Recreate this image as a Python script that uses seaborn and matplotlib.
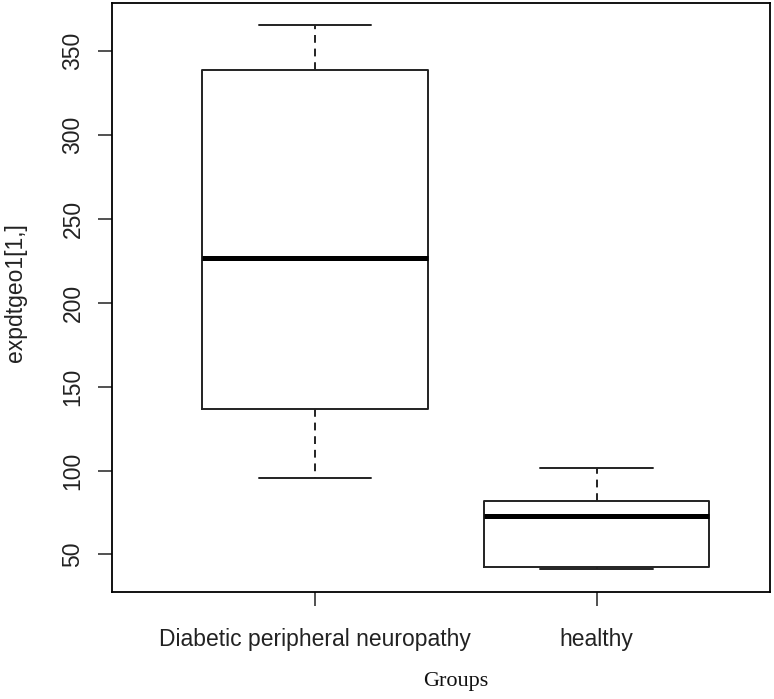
import matplotlib
matplotlib.use("Agg")
import numpy as np
import pandas as pd
import seaborn as sns
from matplotlib import pyplot as plt

# five-number summaries
groups = ["Diabetic peripheral neuropathy", "healthy"]
dpn_values = [95.3, 136.4, 226.9, 338.7, 365.5]
healthy_values = [41.1, 42.6, 73.0, 81.8, 101.6]
y_ticks = [50, 100, 150, 200, 250, 300, 350]

df = pd.DataFrame({
    "group": [groups[0]] * len(dpn_values) + [groups[1]] * len(healthy_values),
    "value": dpn_values + healthy_values,
})

sns.set_theme(style="ticks")
plt.rcParams["font.family"] = ["Liberation Sans", "DejaVu Sans"]

fig = plt.figure(figsize=(7.74, 6.99), dpi=100)
ax = fig.add_axes([0.1451, 0.1526, 0.8497, 0.8435])

line_col = "#222222"
sns.boxplot(
    data=df, x="group", y="value", order=groups, ax=ax,
    width=0.8, fill=False, linecolor=line_col, linewidth=1.4,
    whis=1.5, showfliers=False,
    medianprops=dict(color="black", linewidth=3.6),
    whiskerprops=dict(color=line_col, linewidth=1.4, linestyle=(0, (4, 3))),
    capprops=dict(color=line_col, linewidth=1.4),
    boxprops=dict(color=line_col, linewidth=1.4),
)

ax.set_xlim(-0.7196, 1.615)
ax.set_ylim(27.4, 378.8)
ax.set_yticks(y_ticks)
ax.set_yticklabels([str(t) for t in y_ticks], rotation=90, va="center")
for sp in ax.spines.values():
    sp.set_visible(True)
    sp.set_color("black")
    sp.set_linewidth(1.3)

ax.tick_params(axis="both", direction="out", length=10, width=1.1,
               color="#222222", labelsize=16.5, labelcolor="#222222")
ax.tick_params(axis="y", pad=10)
ax.tick_params(axis="x", pad=15.5)

ax.set_xlabel("Groups", fontsize=16, family=["Liberation Serif", "DejaVu Serif"], color="#111111")
ax.xaxis.set_label_coords(0.522, -0.135)
ax.set_ylabel("expdtgeo1[1,]", fontsize=16.5, color="#222222")
ax.yaxis.set_label_coords(-0.130, 0.508)

fig.savefig("out.png", dpi=100)
